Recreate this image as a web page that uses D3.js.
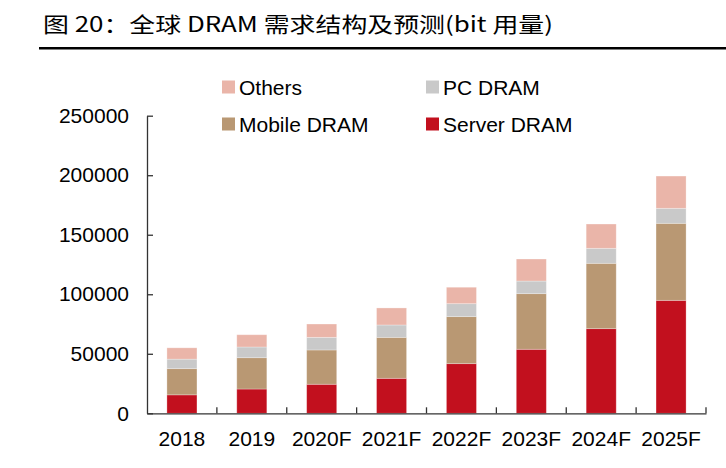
<!DOCTYPE html>
<html><head><meta charset="utf-8">
<script src="https://cdn.jsdelivr.net/npm/d3@7"></script>
<style>
body{margin:0;background:#fff;}
svg{display:block;}
</style></head>
<body>
<svg id="c" width="726" height="468"></svg>
<script>
const categories = ["2018","2019","2020F","2021F","2022F","2023F","2024F","2025F"];
const serverDram = [15500,20400,24400,29400,41700,53800,71100,94900];
const mobileDram = [22000,26300,28800,34400,39500,46700,54900,64700];
const pcDram     = [8000,9000,10600,10400,10900,10600,12600,12600];
const others     = [9500,10300,11200,14300,13800,18500,20400,27100];
const yTicks = [0,50000,100000,150000,200000,250000];
const seriesNames = ["Server DRAM","Mobile DRAM","PC DRAM","Others"];
const seriesColors = ["#C2101E","#B99873","#C9C9C9","#EAB5A9"];

const svg = d3.select("#c");
const title = "图 20：全球 DRAM 需求结构及预测(bit 用量)";
svg.append("text").attr("x",43).attr("y",32)
  .attr("font-family","'Noto Sans CJK SC', sans-serif").attr("font-size",21)
  .attr("textLength",510).attr("lengthAdjust","spacingAndGlyphs")
  .attr("fill","#000").text(title);
svg.append("rect").attr("x",39).attr("y",47).attr("width",687).attr("height",2.5).attr("fill","#000");

const x0 = 147, x1 = 706, yTop = 115.7, yBase = 413.3;
const x = d3.scaleBand().domain(categories).range([x0,x1]).paddingInner(0.57).paddingOuter(0.285);
const y = d3.scaleLinear().domain([0,250000]).range([yBase,yTop]);

const rows = categories.map((c,i)=>({cat:c,"Server DRAM":serverDram[i],"Mobile DRAM":mobileDram[i],"PC DRAM":pcDram[i],"Others":others[i]}));
const stack = d3.stack().keys(seriesNames)(rows);

const g = svg.append("g");
stack.forEach((s,si)=>{
  g.selectAll(null).data(s).enter().append("rect")
    .attr("x",d=>x(d.data.cat)).attr("width",x.bandwidth())
    .attr("y",d=>y(d[1])).attr("height",d=>y(d[0])-y(d[1]))
    .attr("fill",seriesColors[si])
    .attr("stroke","rgba(255,255,255,0.35)").attr("stroke-width",0.8);
});

// y axis
const axisColor = "#333";
const yAxis = d3.axisLeft(y).tickValues(yTicks).tickSizeInner(-6).tickSizeOuter(0).tickPadding(18).tickFormat(d3.format("d"));
const ya = svg.append("g").attr("transform",`translate(${x0},0)`).call(yAxis);
ya.select(".domain").attr("stroke",axisColor).attr("stroke-width",1.3);
ya.selectAll(".tick line").attr("stroke",axisColor).attr("stroke-width",1.3);
ya.selectAll("text").attr("font-family","'Liberation Sans', Arial, sans-serif").attr("font-size",21).attr("fill","#000");

// x axis
const xAxis = d3.axisBottom(x).tickSize(0).tickPadding(18);
const xa = svg.append("g").attr("transform",`translate(0,${yBase})`).call(xAxis);
xa.select(".domain").attr("stroke",axisColor).attr("stroke-width",1.3);
xa.selectAll("text").attr("font-family","'Liberation Sans', Arial, sans-serif").attr("font-size",21).attr("fill","#000");
// category boundary ticks
const step = x.step();
xa.selectAll(".bt").data(categories).enter().append("line")
  .attr("x1",(d,i)=>x0+step*(i+1)).attr("x2",(d,i)=>x0+step*(i+1))
  .attr("y1",0).attr("y2",-6).attr("stroke",axisColor).attr("stroke-width",1.3);

// legend
const legend = [
  {name:"Others",color:seriesColors[3],x:222,y:87},
  {name:"PC DRAM",color:seriesColors[2],x:426,y:87},
  {name:"Mobile DRAM",color:seriesColors[1],x:222,y:124},
  {name:"Server DRAM",color:seriesColors[0],x:426,y:124}
];
const lg = svg.append("g");
legend.forEach(l=>{
  lg.append("rect").attr("x",l.x).attr("y",l.y-6.5).attr("width",13).attr("height",13).attr("fill",l.color);
  lg.append("text").attr("x",l.x+17).attr("y",l.y).attr("dy","0.36em")
    .attr("font-family","'Liberation Sans', Arial, sans-serif").attr("font-size",21).attr("fill","#000").text(l.name);
});
</script>
</body></html>
